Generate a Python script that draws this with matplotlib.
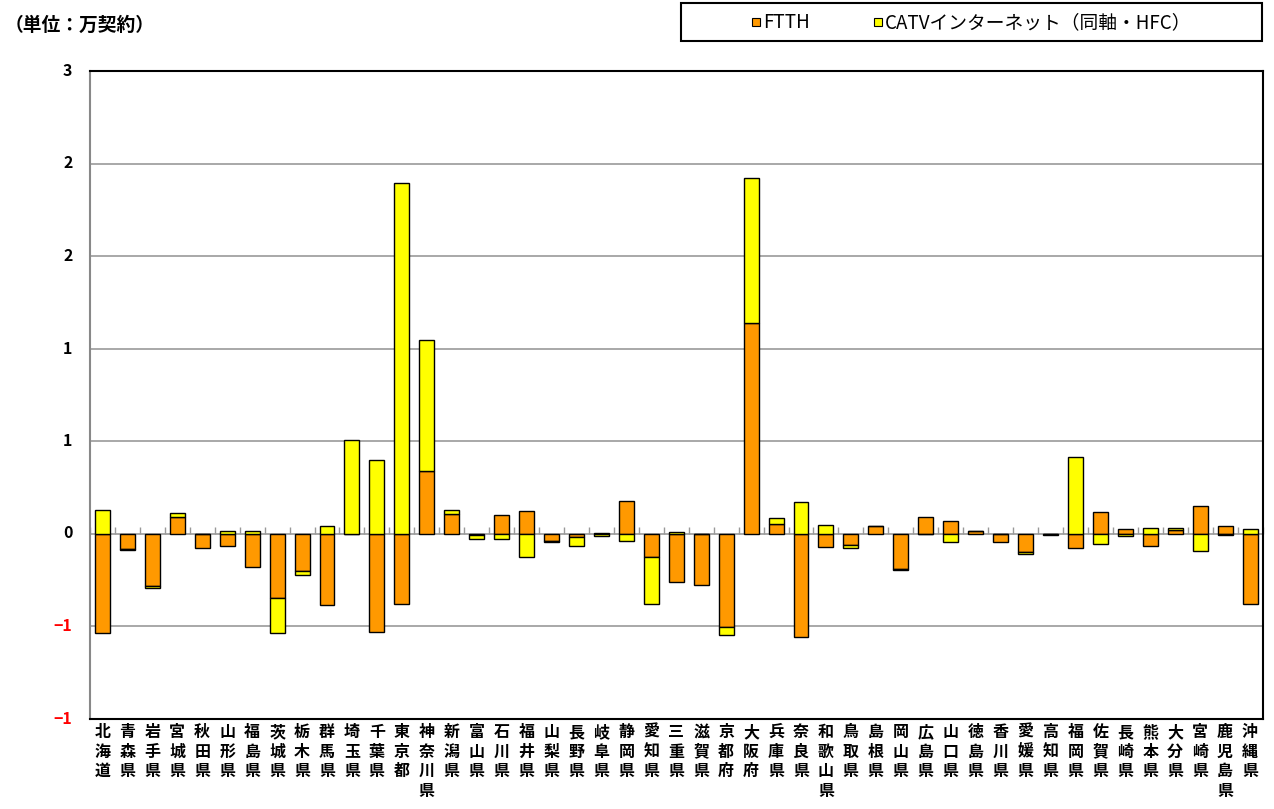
import matplotlib
matplotlib.use("Agg")
import matplotlib.pyplot as plt
from matplotlib.patches import Rectangle
import numpy as np

plt.rcParams['font.family'] = ['Noto Sans CJK JP', 'DejaVu Sans']

prefectures = ["北海道", "青森県", "岩手県", "宮城県", "秋田県", "山形県", "福島県", "茨城県", "栃木県", "群馬県",
               "埼玉県", "千葉県", "東京都", "神奈川県", "新潟県", "富山県", "石川県", "福井県", "山梨県", "長野県",
               "岐阜県", "静岡県", "愛知県", "三重県", "滋賀県", "京都府", "大阪府", "兵庫県", "奈良県", "和歌山県",
               "鳥取県", "島根県", "岡山県", "広島県", "山口県", "徳島県", "香川県", "愛媛県", "高知県", "福岡県",
               "佐賀県", "長崎県", "熊本県", "大分県", "宮崎県", "鹿児島県", "沖縄県"]

ftth = [-0.54, -0.085, -0.285, 0.09, -0.078, -0.068, -0.18, -0.35, -0.205, -0.388,
        0.0, -0.53, -0.38, 0.34, 0.105, -0.01, 0.10, 0.12, -0.042, -0.02,
        0.005, 0.178, -0.125, -0.263, -0.278, -0.505, 1.14, 0.054, -0.557, -0.072,
        -0.062, 0.038, -0.19, 0.088, 0.065, 0.014, -0.045, -0.10, -0.005, -0.081,
        0.117, 0.023, -0.067, 0.02, 0.146, 0.038, -0.382]

catv = [0.125, -0.005, -0.008, 0.022, 0.0, 0.015, 0.012, -0.19, -0.02, 0.04,
        0.503, 0.40, 1.895, 0.707, 0.023, -0.018, -0.03, -0.125, -0.006, -0.045,
        -0.012, -0.043, -0.255, 0.008, 0.0, -0.045, 0.78, 0.028, 0.171, 0.045,
        -0.018, 0.0, -0.007, -0.005, -0.045, 0.0, 0.0, -0.01, -0.002, 0.413,
        -0.058, -0.015, 0.031, 0.008, -0.097, -0.008, 0.023]

ytick_values = [-1.0, -0.5, 0.0, 0.5, 1.0, 1.5, 2.0, 2.5]
ytick_labels = ["−1", "−1", "0", "1", "1", "2", "2", "3"]

series_names = ["FTTH", "CATVインターネット（同軸・HFC）"]
colors = ["#FF9900", "#FFFF00"]

W, H = 1274, 809
fig = plt.figure(figsize=(W / 100, H / 100), dpi=100)
ax = fig.add_axes([90/W, 1 - 718.5/H, (1262.5-90)/W, (718.5-71)/H])

x = np.arange(len(prefectures))
ftth_a = np.array(ftth)
catv_a = np.array(catv)
# Excel-style stacking: positives stack upward, negatives downward
pos_base = np.where(ftth_a > 0, ftth_a, 0)
neg_base = np.where(ftth_a < 0, ftth_a, 0)
catv_base = np.where(catv_a >= 0, pos_base, neg_base)

w = 0.6
ax.bar(x, ftth_a, width=w, color=colors[0], edgecolor="black", linewidth=1.0, zorder=3)
ax.bar(x, catv_a, width=w, bottom=catv_base, color=colors[1], edgecolor="black", linewidth=1.0, zorder=3)

ax.set_xlim(-0.5, len(prefectures) - 0.5)
ax.set_ylim(-1.0, 2.5)

for v in ytick_values:
    ax.axhline(v, color="#999999", linewidth=1.2, zorder=1)

# y labels drawn as text so that each can take its own colour
ax.set_yticks([])
ytrans = ax.get_yaxis_transform()
for v, lab in zip(ytick_values, ytick_labels):
    ax.text(-0.015 * 1 - 0.0, v, lab, transform=ytrans, ha="right", va="center",
            fontsize=11.5, fontweight="bold", color="#FF0000" if v < 0 else "black")

ax.set_xticks([])
for s in ["top", "right", "bottom"]:
    ax.spines[s].set_color("black")
    ax.spines[s].set_linewidth(1.5)
ax.spines["left"].set_color("#888888")
ax.spines["left"].set_linewidth(1.5)

# category axis at zero with tick marks between categories
sec = ax.secondary_xaxis(1.0 / 3.5)
sec.set_xticks(np.arange(len(prefectures) + 1) - 0.5)
sec.tick_params(direction='in', length=5, color="#999999", width=1, labelbottom=False, labeltop=False)
sec.spines["bottom"].set_visible(False)
sec.spines["top"].set_visible(False)

# vertical category labels
for xi, name in zip(x, prefectures):
    ax.text(xi, -1.03, "\n".join(name), ha="center", va="top", fontsize=11.5, fontweight="bold",
            linespacing=1.27, transform=ax.transData, clip_on=False)

fig.text(5/W, 1 - 25/H, "（単位：万契約）", fontsize=13.5, fontweight="bold", ha="left", va="center")

# legend box drawn like Excel's
fig.patches.append(Rectangle((681/W, 1 - 41/H), (1262-681)/W, 38/H, transform=fig.transFigure,
                             facecolor="white", edgecolor="black", linewidth=1.5))
sq = 8
for (xs, name, c) in [(752, series_names[0], colors[0]), (874, series_names[1], colors[1])]:
    fig.patches.append(Rectangle((xs/W, 1 - (22 + sq/2)/H), sq/W, sq/H, transform=fig.transFigure,
                                 facecolor=c, edgecolor="black", linewidth=0.8))
    fig.text((xs + sq + 3)/W, 1 - 22.5/H, name, fontsize=13.5, ha="left", va="center")

fig.savefig("out.png", dpi=100)
